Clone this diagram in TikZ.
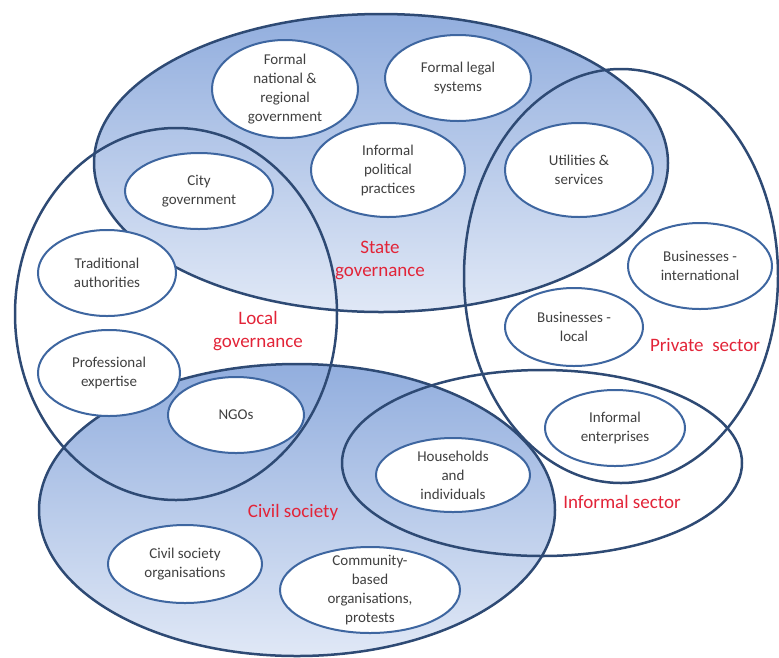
\documentclass[tikz,border=0pt]{standalone}
\usepackage{fontspec}
\setmainfont{Carlito}
\usetikzlibrary{shapes.geometric}
\definecolor{rim}{RGB}{46,74,116}
\definecolor{itemrim}{RGB}{62,102,160}
\definecolor{topblue}{RGB}{146,174,222}
\definecolor{lowblue}{RGB}{224,232,246}
\definecolor{txt}{RGB}{64,64,64}
\definecolor{lbl}{RGB}{226,36,56}
\begin{document}
\begin{tikzpicture}[x=1pt,y=-1pt,
	item/.style={ellipse,draw=itemrim,line width=2pt,fill=white,inner sep=-5pt,align=center,text=txt,font=\fontsize{15}{19}\selectfont},
	area/.style={text=lbl,align=center,font=\fontsize{19}{23}\selectfont},
	region/.style={draw=rim,line width=2.5pt}]
	\useasboundingbox (0,0) rectangle (779,657);
	% shaded sets
	\shade[top color=topblue,bottom color=lowblue] (381,163) ellipse [x radius=287pt,y radius=149pt];
	\shade[top color=topblue,bottom color=lowblue] (297,510) ellipse [x radius=258pt,y radius=146pt];
	% outlines
	\draw[region] (381,163) ellipse [x radius=287pt,y radius=149pt];
	\draw[region] (176,314) ellipse [x radius=161pt,y radius=186pt];
	\draw[region] (621,276) ellipse [x radius=157pt,y radius=207pt];
	\draw[region] (297,510) ellipse [x radius=258pt,y radius=146pt];
	\draw[region] (542,463) ellipse [x radius=200pt,y radius=93pt];
	% actors
	\node[item,minimum width=146pt,minimum height=98pt] (natgov) at (285,89) {Formal\\national \&\\regional\\government};
	\node[item,minimum width=146pt,minimum height=86pt] (legal) at (458,78) {Formal legal\\systems};
	\node[item,minimum width=154pt,minimum height=94pt] (polit) at (388,170) {Informal\\political\\practices};
	\node[item,minimum width=148pt,minimum height=76pt] (citygov) at (199,191) {City\\government};
	\node[item,minimum width=148pt,minimum height=94pt] (utils) at (579,170) {Utilities \&\\services};
	\node[item,minimum width=138pt,minimum height=86pt] (trad) at (107,273) {Traditional\\authorities};
	\node[item,minimum width=144pt,minimum height=86pt] (bizint) at (700,266) {Businesses -\\international};
	\node[item,minimum width=138pt,minimum height=78pt] (bizloc) at (574,327) {Businesses -\\local};
	\node[item,minimum width=142pt,minimum height=86pt] (prof) at (109,373) {Professional\\expertise};
	\node[item,minimum width=136pt,minimum height=76pt] (ngo) at (236,415) {NGOs};
	\node[item,minimum width=154pt,minimum height=78pt] (cso) at (185,564) {Civil society\\organisations};
	\node[item,minimum width=180pt,minimum height=86pt] (cbo) at (370,590) {Community-\\based\\organisations,\\protests};
	\node[item,minimum width=154pt,minimum height=74pt] (house) at (453,475) {Households\\and\\individuals};
	\node[item,minimum width=140pt,minimum height=76pt] (infent) at (615,428) {Informal\\enterprises};
	% set names
	\node[area] (state) at (380,260) {State\\governance};
	\node[area] (local) at (258,331) {Local\\governance};
	\node[area] (private) at (705,345) {Private~~sector};
	\node[area] (informal) at (622,502) {Informal sector};
	\node[area] (civil) at (293,512) {Civil society};
\end{tikzpicture}
\end{document}
